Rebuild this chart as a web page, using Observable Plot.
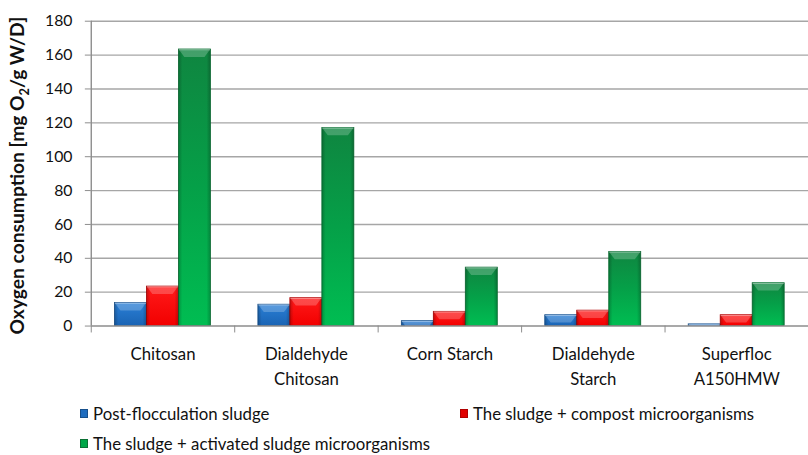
<!DOCTYPE html>
<html>
<head>
<meta charset="utf-8">
<script src="https://cdn.jsdelivr.net/npm/d3@7"></script>
<script src="https://cdn.jsdelivr.net/npm/@observablehq/plot@0.6"></script>
<style>
  html, body { margin: 0; padding: 0; background: #fff; }
  body { width: 808px; height: 455px; overflow: hidden; font-family: Lato, "Open Sans", sans-serif; }
  #chart { width: 808px; height: 395px; overflow: hidden; position: relative; }
  #legend { position: relative; width: 808px; height: 60px; font-size: 16.8px; color: #111; }
  .item { position: absolute; display: flex; align-items: center; white-space: nowrap; }
  .sw { width: 8px; height: 9px; margin-right: 5px; box-sizing: border-box; }
</style>
</head>
<body>
<div id="chart"></div>
<div id="legend"></div>
<script>
const categories = ["Chitosan", "Dialdehyde\nChitosan", "Corn Starch", "Dialdehyde\nStarch", "Superfloc\nA150HMW"];
const seriesNames = ["Post-flocculation sludge", "The sludge + compost microorganisms", "The sludge + activated sludge microorganisms"];
const postFlocculation = [13.6, 12.6, 2.9, 6.4, 1.0];
const compostMicro = [23.3, 16.5, 8.4, 9.1, 6.4];
const activatedMicro = [163.3, 117.0, 34.5, 43.8, 25.3];
const yTicks = [0, 20, 40, 60, 80, 100, 120, 140, 160, 180];

const seriesValues = [postFlocculation, compostMicro, activatedMicro];
const seriesFill = ["url(#gBlue)", "url(#gRed)", "url(#gGreen)"];
const seriesStroke = ["#17508c", "#b00000", "#0b7034"];
const seriesSwatch = ["#1f6dbf", "#e00000", "#00a648"];

const groupStart = 0.165, barW = 0.223;

const rows = [];
seriesValues.forEach((vals, s) => vals.forEach((v, i) => rows.push({i, s, value: v})));

const plot = Plot.plot({
  width: 819,
  height: 395,
  marginLeft: 92,
  marginRight: 0,
  marginTop: 21,
  marginBottom: 65,
  style: {fontFamily: "Lato, 'Open Sans', sans-serif", fontSize: "16px", color: "#111", background: "transparent"},
  x: {type: "linear", domain: [0, categories.length], axis: null},
  y: {domain: [0, 180], axis: null},
  marks: [
    Plot.ruleY(yTicks.filter(d => d > 0), {stroke: "#a6a6a6", strokeWidth: 1.4, strokeOpacity: 1}),
    Plot.axisY({ticks: yTicks, tickSize: 6, tickPadding: 13, label: null, stroke: "#8c8c8c", strokeOpacity: 1, fontSize: 16}),
    ...seriesValues.map((vals, s) => Plot.rectY(rows.filter(d => d.s === s), {
      x1: d => d.i + groupStart + d.s * barW,
      x2: d => d.i + groupStart + (d.s + 1) * barW,
      y1: 0, y2: "value",
      fill: seriesFill[s], stroke: seriesStroke[s], strokeWidth: 0.8
    })),
    Plot.rectY(rows, {
      x1: d => d.i + groupStart + d.s * barW,
      x2: d => d.i + groupStart + (d.s + 1) * barW,
      y1: 0, y2: "value",
      fill: "url(#gEdge)"
    }),
    Plot.ruleX([0], {stroke: "#8c8c8c", strokeWidth: 1.4}),
    Plot.ruleY([0], {stroke: "#8c8c8c", strokeWidth: 1.6}),
    Plot.axisX({ticks: d3.range(0, categories.length + 1), tickSize: 7, tickFormat: () => "", stroke: "#8c8c8c", strokeOpacity: 1}),
    Plot.axisX({ticks: d3.range(categories.length).map(i => i + 0.5), tickSize: 0, tickPadding: 16, lineHeight: 1.5,
      tickFormat: t => categories[Math.floor(t)], fontSize: 17, label: null})
  ]
});

const svg = d3.select(plot);
const defs = svg.insert("defs", ":first-child");
function vgrad(id, stops) {
  const g = defs.append("linearGradient").attr("id", id).attr("x1", 0).attr("y1", 0).attr("x2", 0).attr("y2", 1);
  stops.forEach(([o, c]) => g.append("stop").attr("offset", o).attr("stop-color", c));
}
vgrad("gBlue", [[0, "#2a7fd6"], [1, "#1a64b4"]]);
vgrad("gRed", [[0, "#ff1a1a"], [1, "#f20000"]]);
vgrad("gGreen", [[0, "#0f8540"], [0.5, "#05a048"], [1, "#00bd52"]]);
const eg = defs.append("linearGradient").attr("id", "gEdge").attr("x1", 0).attr("y1", 0).attr("x2", 1).attr("y2", 0);
[[0, "rgba(0,0,0,0.22)"], [0.12, "rgba(0,0,0,0)"], [0.88, "rgba(0,0,0,0)"], [1, "rgba(0,0,0,0.22)"]]
  .forEach(([o, c]) => eg.append("stop").attr("offset", o).attr("stop-color", c));

// bevelled top caps, placed on the bar rects that Plot rendered
const rectGroups = svg.selectAll("g[aria-label='rect']").nodes();
const overlay = rectGroups[rectGroups.length - 1];
const caps = svg.append("g").attr("aria-label", "bevel");
d3.select(overlay).selectAll("rect").each(function() {
  const x = +this.getAttribute("x"), y = +this.getAttribute("y");
  const w = +this.getAttribute("width"), h = +this.getAttribute("height");
  const d = Math.min(8, h), e = Math.min(6, w / 4) * d / 8;
  caps.append("polygon")
    .attr("points", `${x},${y} ${x + w},${y} ${x + w - e},${y + d} ${x + e},${y + d}`)
    .attr("fill", "rgba(255,255,255,0.22)");
  caps.append("line").attr("x1", x + 0.5).attr("x2", x + w - 0.5).attr("y1", y + 0.8).attr("y2", y + 0.8)
    .attr("stroke", "rgba(255,255,255,0.35)").attr("stroke-width", 1);
});

const t = svg.append("text")
  .attr("transform", "translate(24,178) rotate(-90)")
  .attr("text-anchor", "middle")
  .attr("font-weight", "bold")
  .attr("font-size", 19.5)
  .attr("fill", "#111");
t.append("tspan").text("Oxygen consumption [mg O");
t.append("tspan").attr("font-size", 13).attr("dy", 5).text("2");
t.append("tspan").attr("dy", -5).text("/g W/D]");

document.getElementById("chart").appendChild(plot);

const legend = d3.select("#legend");
const legendPos = [[80, 18], [460, 18], [80, 48]];
seriesNames.forEach((name, s) => {
  const it = legend.append("div").attr("class", "item")
    .style("left", legendPos[s][0] + "px").style("top", (legendPos[s][1] - 10) + "px");
  it.append("div").attr("class", "sw").style("background", seriesSwatch[s]).style("border", "1px solid " + seriesStroke[s]);
  it.append("span").text(name);
});
</script>
</body>
</html>
